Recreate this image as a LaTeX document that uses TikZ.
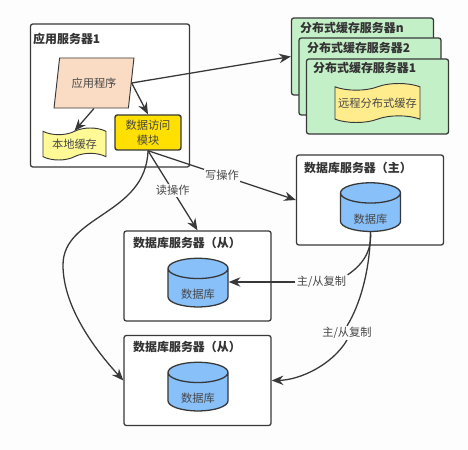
\documentclass[tikz,border=0pt]{standalone}
\usepackage{fontspec}
\setmainfont{Noto Sans CJK SC}
\usepackage{xcolor}
\usepackage{tikz}
\usetikzlibrary{shapes.geometric,shapes.symbols,arrows.meta}
\definecolor{linegray}{RGB}{56,56,56}
\definecolor{txtgray}{RGB}{72,72,72}
\definecolor{peach}{RGB}{250,220,196}
\definecolor{paleyellow}{RGB}{255,250,150}
\definecolor{daoyellow}{RGB}{255,224,0}
\definecolor{mint}{RGB}{196,240,200}
\definecolor{sand}{RGB}{255,236,140}
\definecolor{dbblue}{RGB}{136,192,250}
\definecolor{pagebg}{RGB}{253,253,253}
\newcommand{\dbname}{\raisebox{-9pt}[0pt][0pt]{数据库}}

\begin{document}
\begin{tikzpicture}[x=0.03cm,y=-0.03cm,
          srv/.style={draw=linegray,line width=1.1pt,rounded corners=2pt,fill=white},
          dist/.style={srv,fill=mint,minimum width=4.26cm,minimum height=2.25cm},
          dbsrv/.style={srv,minimum width=4.41cm,minimum height=2.7cm},
          ttl/.style={anchor=west,inner sep=0pt,font=\fontsize{10.2}{12}\selectfont\bfseries,text=black!80},
          lbl/.style={font=\fontsize{9.6}{12.5}\selectfont,text=txtgray,align=center},
          db/.style={cylinder,shape border rotate=90,shape aspect=0.6,draw=linegray,line width=1.1pt,
                     fill=dbblue,minimum width=1.8cm,minimum height=1.46cm,inner sep=0pt,lbl},
          cache/.style={tape,tape bend top=in and out,tape bend bottom=in and out,tape bend height=0.2cm,
                        draw=linegray,line width=0.8pt,inner sep=0pt,lbl},
          arr/.style={draw=linegray,line width=1.1pt,-{Stealth[length=10pt,width=8pt]}},
          plainline/.style={draw=linegray,line width=1.1pt},
          edgelbl/.style={lbl,fill=pagebg,inner sep=1pt}]
        \fill[pagebg] (0,0) rectangle (468,450);
        % application server
        \node[srv,minimum width=4.77cm,minimum height=4.29cm] (appsrv) at (110,95.5) {};
        \node[ttl] (apptitle) at (33,39) {应用服务器1};
        \node[trapezium,trapezium stretches=true,trapezium left angle=71,trapezium right angle=109,
              draw=linegray,line width=0.8pt,fill=peach,minimum width=2.4cm,minimum height=1.5cm,
              inner sep=0pt,lbl] (prog) at (94,83) {应用程序};
        \node[cache,fill=paleyellow,minimum width=1.89cm,minimum height=0.96cm] (localcache) at (74.5,144) {本地缓存};
        \node[srv,fill=daoyellow,line width=1.2pt,minimum width=1.98cm,minimum height=1.05cm,lbl] (dao) at (148,132.5) {数据访问\\模块};
        % distributed cache servers
        \node[dist,minimum height=2.31cm] (distn) at (362.5,56.5) {};
        \node[ttl] (titlen) at (300,28) {分布式缓存服务器n};
        \node[dist,minimum height=2.31cm] (dist2) at (370,76.5) {};
        \node[ttl] (title2) at (307,48) {分布式缓存服务器2};
        \node[dist] (dist1) at (377.5,96.5) {};
        \node[ttl] (title1) at (313,68) {分布式缓存服务器1};
        \node[cache,fill=sand,minimum width=2.55cm,minimum height=1.17cm] (remote) at (377.5,103) {远程分布式缓存};
        % database servers
        \node[dbsrv] (master) at (370,200) {};
        \node[ttl] (mtitle) at (304,168) {数据库服务器（主）};
        \node[db] (mdb) at (370.5,212.5) {\dbname};
        \node[dbsrv] (slavea) at (197.5,276) {};
        \node[ttl] (atitle) at (133,243) {数据库服务器（从）};
        \node[db] (adb) at (198,288) {\dbname};
        \node[dbsrv] (slaveb) at (197.5,380.5) {};
        \node[ttl] (btitle) at (133,347) {数据库服务器（从）};
        \node[db] (bdb) at (198,392) {\dbname};
        % connectors
        \draw[arr] (prog.east) -- (distn.west);
        \draw[arr] (prog.south) -- (localcache.north);
        \draw[arr] (prog.east) -- (dao.north);
        \draw[arr] (dao.south) -- (slavea.north) node[edgelbl,pos=0.5] (readlbl) {读操作};
        \draw[arr] (dao.south) -- (master.west) node[edgelbl,pos=0.5] (writelbl) {写操作};
        \draw[arr] (dao.south) .. controls (146,215) and (63,215) .. (63,265)
          .. controls (63,310) and (100,355) .. (slaveb.west);
        \node[edgelbl] (repa) at (321.5,282) {主/从复制};
        \node[edgelbl] (repb) at (347,333) {主/从复制};
        \draw[plainline] (mdb.south) .. controls (372,252) and (362,265) .. (repa.north east);
        \draw[arr] (repa.west) -- (adb.east |- repa.west);
        \draw[plainline] (mdb.south) .. controls (370,270) and (360,305) .. (repb.north);
        \draw[arr] (repb.south) .. controls (332,365) and (300,380) .. (slaveb.east);
      \end{tikzpicture}
\end{document}
